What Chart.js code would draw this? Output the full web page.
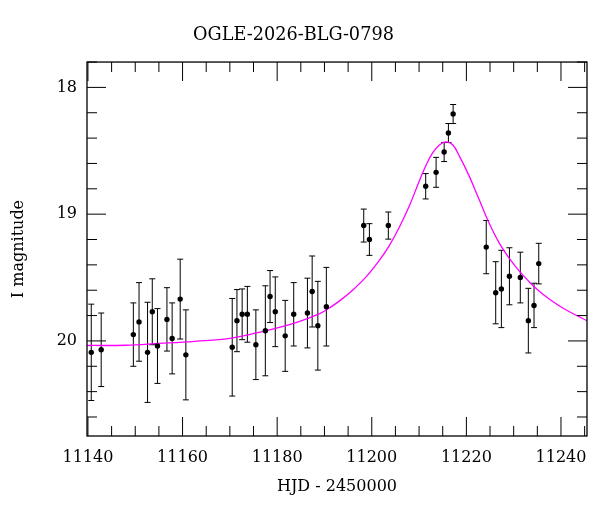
<!DOCTYPE html>
<html>
<head>
<meta charset="utf-8">
<script src="https://cdn.jsdelivr.net/npm/chart.js@4.4.1/dist/chart.umd.min.js"></script>
<style>
  html, body { margin: 0; padding: 0; background: #fff; }
  #wrap { width: 600px; height: 512px; }
</style>
</head>
<body>
<div id="wrap"><canvas id="c" width="600" height="512"></canvas></div>
<script>
// ---- data ----
const chartTitle = 'OGLE-2026-BLG-0798';
const xTitle = 'HJD - 2450000';
const yTitle = 'I magnitude';

// observations: HJD-2450000, I mag, symmetric error
const obsDays = [
  11140.7, 11142.8,
  11149.6, 11150.8, 11152.6, 11153.6, 11154.7, 11156.7, 11157.8, 11159.5, 11160.7,
  11170.5, 11171.5, 11172.6, 11173.7, 11175.5, 11177.5, 11178.5, 11179.6, 11181.7,
  11183.5, 11186.4, 11187.4, 11188.6, 11190.4,
  11198.3, 11199.5, 11203.5,
  11211.4, 11213.6, 11215.3, 11216.2, 11217.2,
  11224.2, 11226.2, 11227.4, 11229.1, 11231.4, 11233.1, 11234.3, 11235.3
];
const obsMags = [
  20.09, 20.07,
  19.95, 19.85, 20.09, 19.77, 20.04, 19.83, 19.98, 19.67, 20.11,
  20.05, 19.84, 19.79, 19.79, 20.03, 19.92, 19.65, 19.77, 19.96,
  19.79, 19.78, 19.61, 19.88, 19.73,
  19.09, 19.20, 19.09,
  18.78, 18.67, 18.51, 18.36, 18.21,
  19.26, 19.62, 19.59, 19.49, 19.50, 19.84, 19.72, 19.39
];
const obsErrs = [
  0.38, 0.29,
  0.25, 0.31, 0.395, 0.26, 0.295, 0.25, 0.28, 0.315, 0.355,
  0.385, 0.245, 0.20, 0.22, 0.275, 0.355, 0.205, 0.275, 0.28,
  0.25, 0.275, 0.28, 0.35, 0.31,
  0.13, 0.125, 0.107,
  0.10, 0.118, 0.075, 0.075, 0.075,
  0.21, 0.245, 0.305, 0.225, 0.20, 0.255, 0.175, 0.16
];

// model curve (magenta)
const modelDays = [
  11139.8, 11148.0, 11155.0, 11162.6, 11170.0, 11177.0, 11184.0, 11189.0, 11191.1, 11193.2,
  11196.0, 11198.8, 11201.6, 11203.7, 11205.8, 11208.0, 11210.05, 11211.5, 11212.9, 11214.3,
  11215.7, 11217.1, 11218.5, 11220.6, 11222.7, 11224.8, 11226.9, 11229.0, 11231.1, 11233.2,
  11235.35, 11237.5, 11239.6, 11242.4, 11245.5
];
const modelMags = [
  20.036, 20.034, 20.02, 20.003, 19.98, 19.925, 19.855, 19.785, 19.738, 19.684,
  19.598, 19.495, 19.365, 19.248, 19.105, 18.93, 18.738, 18.612, 18.515, 18.454,
  18.43, 18.452, 18.54, 18.70, 18.885, 19.07, 19.225, 19.345, 19.445, 19.53,
  19.607, 19.67, 19.722, 19.782, 19.84
];

// axis ranges and ticks
const xMin = 11139.8, xMax = 11245.5;
const yMin = 17.8, yMax = 20.75;
const xMajorTicks = [11140, 11160, 11180, 11200, 11220, 11240];
const xMinorTicks = [11145, 11150, 11155, 11165, 11170, 11175, 11185, 11190, 11195,
                     11205, 11210, 11215, 11225, 11230, 11235, 11245];
const yMajorTicks = [18, 19, 20];
const yMinorTicks = [17.8, 18.2, 18.4, 18.6, 18.8, 19.2, 19.4, 19.6, 19.8, 20.2, 20.4, 20.6];

// ---- chart ----
const FONT = "'DejaVu Serif', 'Liberation Serif', serif";

const obsPoints = obsDays.map((d, i) => ({ x: d, y: obsMags[i] }));
const modelPoints = modelDays.map((d, i) => ({ x: d, y: modelMags[i] }));

const errorBarPlugin = {
  id: 'errorBars',
  beforeDatasetsDraw(chart) {
    const { ctx, chartArea, scales: { x, y } } = chart;
    ctx.save();
    ctx.beginPath();
    ctx.rect(chartArea.left, chartArea.top, chartArea.right - chartArea.left, chartArea.bottom - chartArea.top);
    ctx.clip();
    ctx.strokeStyle = '#000';
    ctx.lineWidth = 1;
    const cap = 3;
    for (let i = 0; i < obsDays.length; i++) {
      const px = x.getPixelForValue(obsDays[i]);
      const y1 = y.getPixelForValue(obsMags[i] - obsErrs[i]);
      const y2 = y.getPixelForValue(obsMags[i] + obsErrs[i]);
      ctx.beginPath();
      ctx.moveTo(px, y1); ctx.lineTo(px, y2);
      ctx.moveTo(px - cap, y1); ctx.lineTo(px + cap, y1);
      ctx.moveTo(px - cap, y2); ctx.lineTo(px + cap, y2);
      ctx.stroke();
    }
    ctx.restore();
  }
};

const framePlugin = {
  id: 'frame',
  afterDraw(chart) {
    const { ctx, chartArea: a, scales: { x, y } } = chart;
    ctx.save();
    ctx.strokeStyle = '#000';
    ctx.lineWidth = 1;
    const major = 19, minor = 10;
    ctx.beginPath();
    const tx = (v, len) => {
      const p = x.getPixelForValue(v);
      ctx.moveTo(p, a.bottom); ctx.lineTo(p, a.bottom - len);
      ctx.moveTo(p, a.top); ctx.lineTo(p, a.top + len);
    };
    const ty = (v, len) => {
      const p = y.getPixelForValue(v);
      ctx.moveTo(a.left, p); ctx.lineTo(a.left + len, p);
      ctx.moveTo(a.right, p); ctx.lineTo(a.right - len, p);
    };
    xMajorTicks.forEach(v => tx(v, major));
    xMinorTicks.forEach(v => tx(v, minor));
    yMajorTicks.forEach(v => ty(v, major));
    yMinorTicks.forEach(v => ty(v, minor));
    ctx.stroke();
    ctx.lineWidth = 1.3;
    ctx.strokeRect(a.left, a.top, a.right - a.left, a.bottom - a.top);
    ctx.restore();
  }
};

new Chart(document.getElementById('c'), {
  type: 'scatter',
  data: {
    datasets: [
      {
        label: 'model',
        type: 'line',
        data: modelPoints,
        borderColor: '#ff00ff',
        borderWidth: 1.3,
        pointRadius: 0,
        fill: false,
        tension: 0.4,
        order: 1
      },
      {
        label: 'OGLE',
        data: obsPoints,
        backgroundColor: '#000',
        borderColor: '#000',
        borderWidth: 0,
        pointRadius: 2.7,
        order: 0
      }
    ]
  },
  options: {
    responsive: false,
    animation: false,
    events: [],
    layout: { autoPadding: false, padding: { left: 0, right: 13, top: 0, bottom: 0 } },
    plugins: {
      legend: { display: false },
      tooltip: { enabled: false },
      title: {
        display: true,
        text: chartTitle,
        color: '#000',
        font: { family: FONT, size: 17.7, weight: 'normal', lineHeight: 1.2 },
        padding: { top: 24.4, bottom: 16.4 }
      }
    },
    scales: {
      x: {
        type: 'linear',
        min: xMin,
        max: xMax,
        grid: { display: false, drawTicks: false },
        border: { display: false },
        afterBuildTicks: (s) => { s.ticks = xMajorTicks.map(v => ({ value: v })); },
        afterFit: (s) => { s.height = 76; },
        ticks: {
          color: '#000',
          font: { family: FONT, size: 16 },
          padding: 12,
          maxRotation: 0,
          autoSkip: false,
          callback: (v) => String(v)
        },
        title: {
          display: true,
          text: xTitle,
          color: '#000',
          font: { family: FONT, size: 16 },
          padding: { top: 0, bottom: 15.4 }
        }
      },
      y: {
        type: 'linear',
        reverse: true,
        min: yMin,
        max: yMax,
        grid: { display: false, drawTicks: false },
        border: { display: false },
        afterBuildTicks: (s) => { s.ticks = yMajorTicks.map(v => ({ value: v })); },
        afterFit: (s) => { s.width = 87; },
        ticks: {
          color: '#000',
          font: { family: FONT, size: 16 },
          padding: 10,
          autoSkip: false,
          callback: (v) => String(v)
        },
        title: {
          display: true,
          text: yTitle,
          color: '#000',
          font: { family: FONT, size: 16 },
          padding: { top: 9.4, bottom: 0 }
        }
      }
    }
  },
  plugins: [errorBarPlugin, framePlugin]
});
</script>
</body>
</html>
